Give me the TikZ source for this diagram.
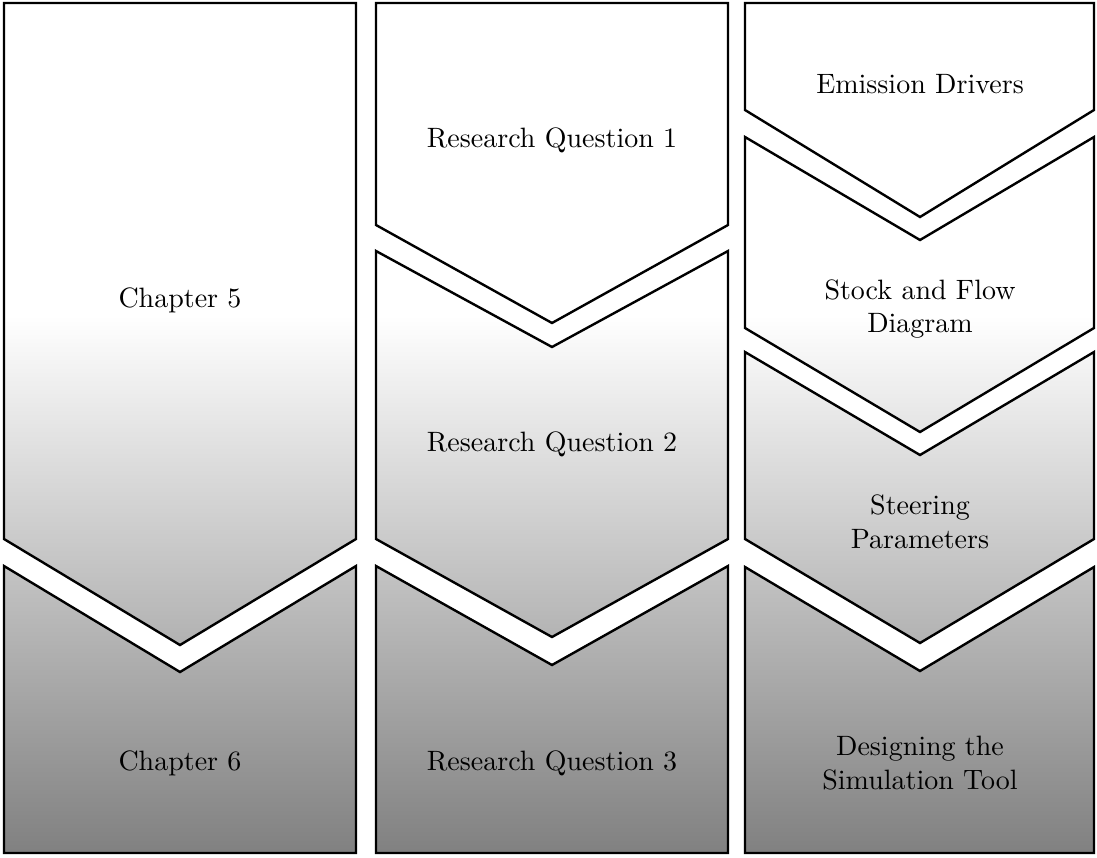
\documentclass[tikz,border=0pt]{standalone}
\usepackage{tikz}
\begin{document}
\begin{tikzpicture}[x=1pt,y=-1pt,
  chev/.style={draw=black, line width=2.4pt, line join=miter,
    path picture={
      \fill[white] (0,0) rectangle (1097,315);
      \shade[top color=white, bottom color=black!50] (0,315) rectangle (1097,857);
    }},
  lbl/.style={align=center, font=\normalsize, inner sep=0pt, scale=2.8}]
\useasboundingbox[fill=white] (0,0) rectangle (1097,857);
% column 1
\path[chev] (4,3) -- (356,3) -- (356,539) -- (180,645) -- (4,539) -- cycle;
\path[chev] (4,566) -- (180,672) -- (356,566) -- (356,853) -- (4,853) -- cycle;
% column 2
\path[chev] (376,3) -- (728,3) -- (728,225) -- (552,323) -- (376,225) -- cycle;
\path[chev] (376,251) -- (552,347) -- (728,251) -- (728,539) -- (552,637) -- (376,539) -- cycle;
\path[chev] (376,566) -- (552,665) -- (728,566) -- (728,853) -- (376,853) -- cycle;
% column 3
\path[chev] (745,3) -- (1094,3) -- (1094,110) -- (920,217) -- (745,110) -- cycle;
\path[chev] (745,137) -- (920,240) -- (1094,137) -- (1094,328) -- (920,432) -- (745,328) -- cycle;
\path[chev] (745,352) -- (920,455) -- (1094,352) -- (1094,539) -- (920,643) -- (745,539) -- cycle;
\path[chev] (745,567) -- (920,671) -- (1094,567) -- (1094,853) -- (745,853) -- cycle;
% labels
\node[lbl] (ch5) at (180,300) {Chapter 5};
\node[lbl] (ch6) at (180,763) {Chapter 6};
\node[lbl] (rq1) at (552,140) {Research Question 1};
\node[lbl] (rq2) at (552,444) {Research Question 2};
\node[lbl] (rq3) at (552,763) {Research Question 3};
\node[lbl] (ed) at (920,84) {Emission Drivers};
\node[lbl] (sfd) at (920,309) {Stock and Flow\\Diagram};
\node[lbl] (sp) at (920,522) {Steering\\Parameters};
\node[lbl] (dst) at (920,763) {Designing the\\Simulation Tool};
\end{tikzpicture}
\end{document}
